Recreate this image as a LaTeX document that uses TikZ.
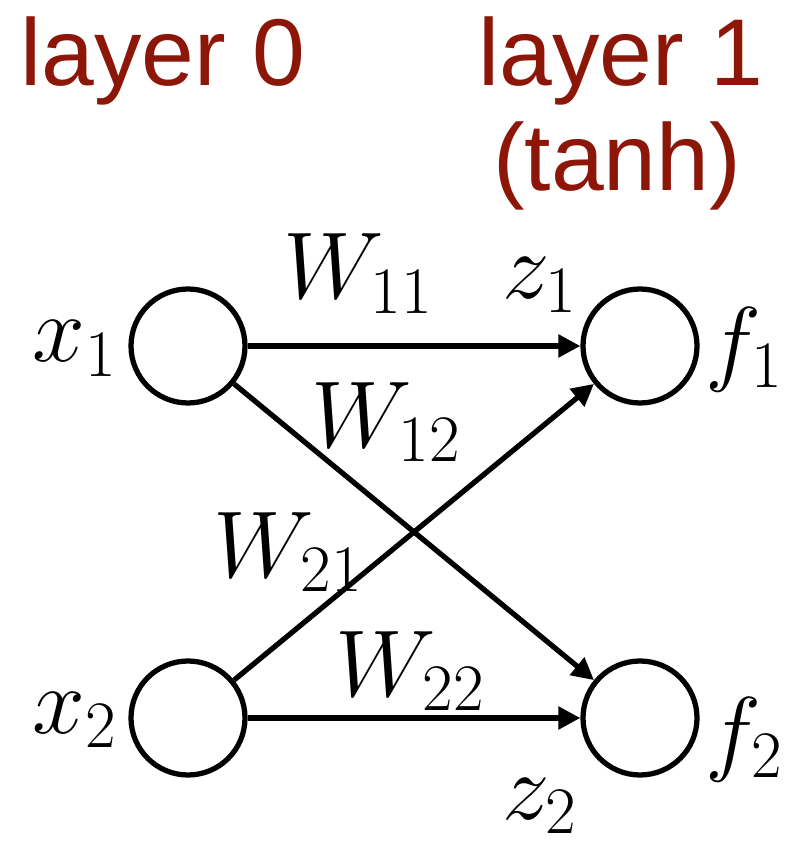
\RequirePackage{fix-cm}
\documentclass[tikz,border=0pt]{standalone}
\usepackage{fontspec}
\setsansfont{Liberation Sans}
\usetikzlibrary{arrows.meta, positioning}

\definecolor{layerred}{RGB}{140,22,8}

\begin{document}
\begin{tikzpicture}[
    neuron/.style={circle, draw=black, line width=0.105cm, minimum size=2.28cm, inner sep=0pt},
    title/.style={font=\sffamily\fontsize{54}{60}\selectfont, text=layerred, inner sep=0pt},
    lbl/.style={font=\fontsize{54}{62}\selectfont, inner sep=0pt},
    arrow/.style={-{Triangle[length=0.44cm, width=0.44cm]}, line width=0.105cm, draw=black}
]
\useasboundingbox (0,0) rectangle (15.8,16.92);

\node[title, anchor=base west] (layer0) at (0.4, 15.2) {layer 0};
\node[title, anchor=base west] (layer1) at (9.56, 15.2) {layer 1};
\node[title, anchor=base] (tanh) at (12.34, 13.1) {(tanh)};

\node[neuron] (x1) at (3.76, 10.0) {};
\node[neuron] (x2) at (3.76, 2.56) {};
\node[neuron] (f1) at (12.8, 10.0) {};
\node[neuron] (f2) at (12.8, 2.56) {};

\draw[arrow] (x1) -- (f1);
\draw[arrow] (x1) -- (f2);
\draw[arrow] (x2) -- (f1);
\draw[arrow] (x2) -- (f2);

\node[lbl] (lx1) at (1.5, 9.95) {$x_1$};
\node[lbl] (lx2) at (1.5, 2.52) {$x_2$};
\node[lbl] (lf1) at (14.88, 9.92) {$f_1$};
\node[lbl] (lf2) at (14.88, 2.12) {$f_2$};
\node[lbl] (w11) at (7.16, 11.45) {$W_{11}$};
\node[lbl] (w12) at (7.72, 8.48) {$W_{12}$};
\node[lbl] (w21) at (5.76, 5.88) {$W_{21}$};
\node[lbl] (w22) at (8.2, 3.5) {$W_{22}$};
\node[lbl] (z1) at (10.8, 11.22) {$z_1$};
\node[lbl] (z2) at (10.8, 0.8) {$z_2$};

\end{tikzpicture}
\end{document}
